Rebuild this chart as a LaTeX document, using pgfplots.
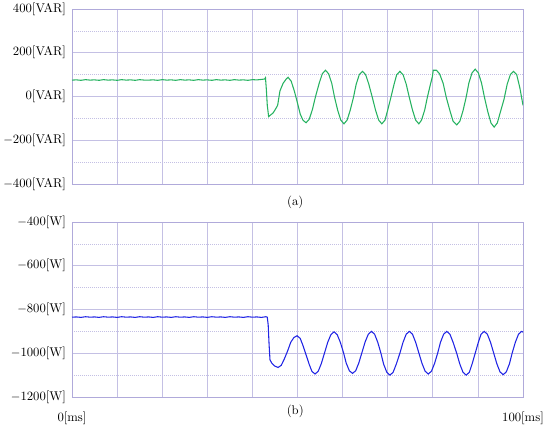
\documentclass[border=0pt]{standalone}
\usepackage{pgfplots}
\pgfplotsset{compat=1.18}
\definecolor{gridc}{RGB}{196,192,228}
\definecolor{framec}{RGB}{176,170,218}
\definecolor{qgreen}{RGB}{38,178,96}
\definecolor{pblue}{RGB}{32,36,228}

\pgfplotsset{
  scope/.style={
    scale only axis, width=338.25pt, height=131.25pt,
    xmin=0, xmax=100,
    xtick={0,10,...,100},
    major tick length=0pt, minor tick length=0pt,
    grid=both,
    major grid style={color=gridc, line width=0.5pt},
    minor grid style={color=gridc, line width=0.5pt, densely dotted},
    axis line style={color=framec, line width=0.6pt},
    tick label style={font=\fontsize{9.5}{11}\selectfont, black},
    yticklabel style={xshift=-1pt},
    clip mode=individual,
  },
}

\begin{document}
\begin{tikzpicture}
\path[use as bounding box] (0,0) rectangle (412.5pt,322.5pt);

% (a) reactive power
\begin{axis}[scope, at={(54pt,184.5pt)}, anchor=south west,
  ymin=-400, ymax=400,
  ytick={-400,-200,0,200,400},
  minor ytick={-300,-100,100,300},
  yticklabels={$-$400[VAR],$-$200[VAR],0[VAR],200[VAR],400[VAR]},
  xticklabels={}]
\addplot[qgreen, line width=0.8pt] coordinates {
(0,75) (1,76) (2,74) (3,77) (4,75) (5,76) (6,74) (7,77) (8,75) (9,76)
(10,74) (11,77) (12,75) (13,76) (14,74) (15,77) (16,75) (17,75) (18,76) (19,74)
(20,77) (21,75) (22,76) (23,74) (24,77) (25,75) (26,76) (27,74) (28,77) (29,75)
(30,76) (31,74) (32,77) (33,75) (34,76) (35,74) (36,77) (37,75) (38,76) (39,74)
(40,77) (41,76) (42,78) (42.7,80) (42.9,86) (43.1,30) (43.3,-40) (43.6,-92)
(44.0,-85) (44.6,-75) (45.2,-55) (45.6,-40) (46.1,25) (46.8,60) (47.5,80) (47.9,88)
(48.6,70) (49.3,25) (50.0,-30) (50.6,-80) (51.2,-108) (51.9,-120)
(52.6,-104) (53.3,-60) (54.0,0) (54.8,60) (55.5,104) (56.2,120)
(56.9,104) (57.6,60) (58.2,-2) (58.9,-62) (59.6,-108) (60.3,-125)
(61.0,-108) (61.7,-62) (62.4,-5) (63.0,55) (63.7,100) (64.4,115)
(65.1,100) (65.8,57) (66.6,-5) (67.3,-62) (68.0,-108) (68.7,-125)
(69.4,-108) (70.0,-62) (70.7,-5) (71.4,55) (72.0,100) (72.7,115)
(73.4,100) (74.1,57) (74.8,-5) (75.5,-62) (76.2,-108) (76.9,-125)
(77.5,-108) (78.2,-62) (78.8,-3) (79.5,58) (79.9,90) (80.1,120) (80.8,120)
(81.5,104) (82.3,60) (83.0,-5) (83.8,-65) (84.5,-113) (85.3,-130)
(86.0,-113) (86.7,-65) (87.4,-3) (88.0,62) (88.7,108) (89.4,125)
(90.1,108) (90.8,62) (91.5,-8) (92.2,-70) (92.9,-121) (93.6,-140)
(94.3,-121) (95.0,-70) (95.8,-12) (96.5,57) (97.2,100) (97.9,115)
(98.6,100) (99.3,40) (100,-40)
};
\node[font=\fontsize{9.5}{11}\selectfont] at (axis description cs:0.495,0) [yshift=-14pt] {(a)};
\end{axis}

% (b) active power
\begin{axis}[scope, at={(54pt,24.75pt)}, anchor=south west,
  ymin=-1200, ymax=-400,
  ytick={-1200,-1000,-800,-600,-400},
  minor ytick={-1100,-900,-700,-500},
  yticklabels={$-$1200[W],$-$1000[W],$-$800[W],$-$600[W],$-$400[W]},
  xticklabels={0[ms],,,,,,,,,,100[ms]},
  xticklabel style={yshift=-8pt}]
\addplot[pblue, line width=0.8pt] coordinates {
(0,-835) (1,-834) (2,-836) (3,-833) (4,-835) (5,-834) (6,-836) (7,-833) (8,-835) (9,-834)
(10,-836) (11,-833) (12,-835) (13,-834) (14,-836) (15,-833) (16,-835) (17,-834) (18,-836) (19,-833)
(20,-835) (21,-834) (22,-836) (23,-833) (24,-835) (25,-834) (26,-836) (27,-833) (28,-835) (29,-834)
(30,-836) (31,-833) (32,-835) (33,-834) (34,-836) (35,-833) (36,-835) (37,-834) (38,-836) (39,-833)
(40,-835) (41,-834) (42,-836) (43,-833) (43.3,-835) (43.5,-870) (43.7,-960) (43.9,-1030)
(44.3,-1045) (44.9,-1058) (45.7,-1065) (46.4,-1055) (47.1,-1025) (47.8,-990) (48.5,-950) (49.2,-928) (49.9,-920)
(50.6,-932) (51.2,-964) (51.9,-1007) (52.6,-1051) (53.2,-1083) (53.9,-1095)
(54.6,-1082) (55.3,-1046) (56.0,-998) (56.7,-950) (57.4,-915) (58.1,-902)
(58.8,-915) (59.5,-950) (60.2,-997) (60.8,-1045) (61.5,-1080) (62.2,-1092)
(62.9,-1080) (63.6,-1044) (64.3,-996) (65.0,-948) (65.7,-913) (66.4,-900)
(67.1,-913) (67.8,-950) (68.5,-1000) (69.1,-1050) (69.8,-1087) (70.5,-1100)
(71.2,-1087) (71.9,-1050) (72.7,-1000) (73.4,-950) (74.1,-913) (74.8,-900)
(75.5,-913) (76.2,-950) (76.9,-998) (77.6,-1046) (78.3,-1082) (79.0,-1095)
(79.7,-1082) (80.4,-1046) (81.1,-998) (81.7,-950) (82.4,-913) (83.1,-900)
(83.8,-913) (84.5,-950) (85.3,-1000) (86.0,-1050) (86.7,-1087) (87.4,-1100)
(88.1,-1087) (88.7,-1050) (89.4,-1000) (90.1,-950) (90.7,-913) (91.4,-900)
(92.1,-913) (92.8,-950) (93.5,-999) (94.2,-1048) (94.9,-1085) (95.6,-1098)
(96.3,-1085) (97.0,-1048) (97.6,-999) (98.3,-950) (99.0,-913) (99.7,-900) (100,-903)
};
\node[font=\fontsize{9.5}{11}\selectfont] at (axis description cs:0.495,0) [yshift=-11pt] {(b)};
\end{axis}
\end{tikzpicture}
\end{document}
